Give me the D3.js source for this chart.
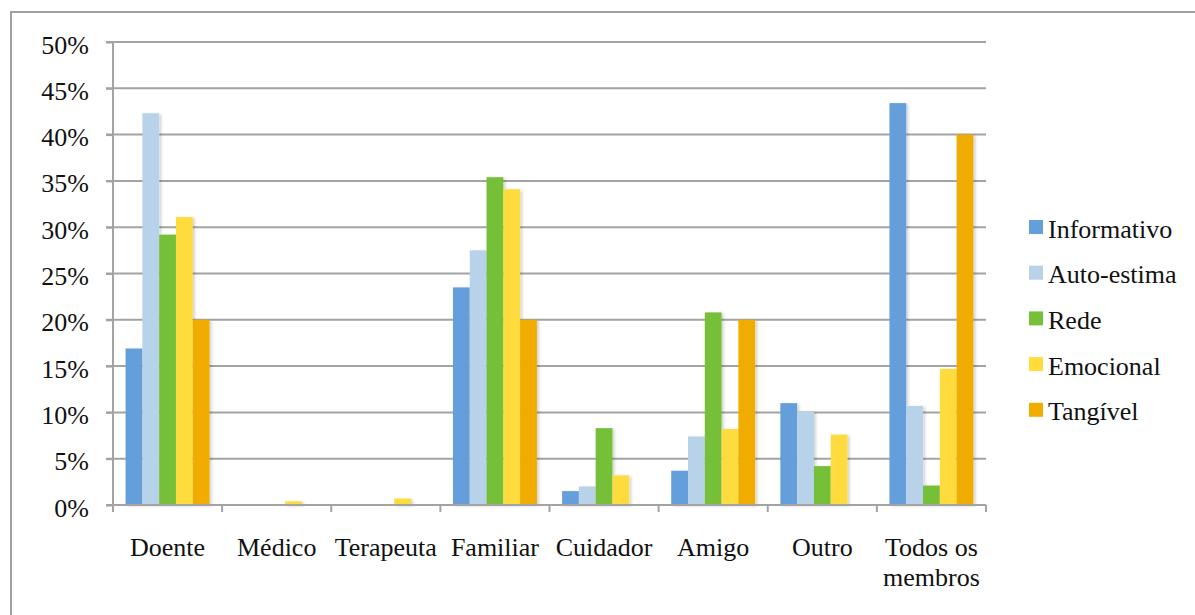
<!DOCTYPE html>
<html>
<head>
<meta charset="utf-8">
<script src="https://cdn.jsdelivr.net/npm/d3@7"></script>
</head>
<body style="margin:0">
<svg id="chart" width="1195" height="615" style="display:block"></svg>
<script>
// Support type shares per member group
const categories = ["Doente", "Médico", "Terapeuta", "Familiar", "Cuidador", "Amigo", "Outro", "Todos os\nmembros"];
const seriesNames = ["Informativo", "Auto-estima", "Rede", "Emocional", "Tangível"];
const seriesColors = ["#659fdb", "#b8d2e9", "#76bf39", "#fedc3c", "#f1ac00"];
const informativo = [16.9, 0, 0, 23.5, 1.5, 3.7, 11.0, 43.4];
const autoEstima  = [42.3, 0, 0, 27.5, 2.0, 7.4, 10.1, 10.7];
const rede        = [29.2, 0, 0, 35.4, 8.3, 20.8, 4.2, 2.1];
const emocional   = [31.1, 0.4, 0.7, 34.1, 3.2, 8.2, 7.6, 14.7];
const tangivel    = [20.0, 0, 0, 20.0, 0, 20.0, 0, 40.0];
const yTicks = [0, 5, 10, 15, 20, 25, 30, 35, 40, 45, 50];

const seriesValues = [informativo, autoEstima, rede, emocional, tangivel];
const FONT = '"Liberation Serif"';

const svg = d3.select("#chart");
const plotLeft = 113, plotRight = 986, plotTop = 42, plotBottom = 505;

// outer frame
svg.append("rect")
  .attr("x", 11).attr("y", 12).attr("width", 1200).attr("height", 620)
  .attr("fill", "none").attr("stroke", "#a0a0a0").attr("stroke-width", 2);

const x = d3.scaleBand().domain(categories).range([plotLeft, plotRight]).paddingInner(0).paddingOuter(0);
const y = d3.scaleLinear().domain([0, 50]).range([plotBottom, plotTop]);
// 150% gap between clusters: each bar takes band / 6.5
const barW = x.bandwidth() / 6.5;
const offset0 = (x.bandwidth() - 5 * barW) / 2;

// gridlines
svg.append("g").selectAll("line").data(yTicks.filter(d => d > 0)).join("line")
  .attr("x1", plotLeft - 7).attr("x2", plotRight)
  .attr("y1", d => y(d)).attr("y2", d => y(d))
  .attr("stroke", "#a3a3a3").attr("stroke-width", 2);

// soft shadow behind bars
const defs = svg.append("defs");
const f = defs.append("filter").attr("id", "shadow").attr("x", "-30%").attr("y", "-5%").attr("width", "160%").attr("height", "110%");
f.append("feDropShadow").attr("dx", 2).attr("dy", 1).attr("stdDeviation", 1.5)
  .attr("flood-color", "#000").attr("flood-opacity", 0.18);

// bars
const barData = [];
categories.forEach((c, ci) => {
  seriesNames.forEach((s, si) => {
    barData.push({ c, s, si, v: seriesValues[si][ci] });
  });
});
svg.append("g").attr("filter", "url(#shadow)").selectAll("rect").data(barData.filter(d => d.v > 0)).join("rect")
  .attr("x", d => x(d.c) + offset0 + d.si * barW)
  .attr("width", barW)
  .attr("y", d => y(d.v))
  .attr("height", d => y(0) - y(d.v))
  .attr("fill", d => seriesColors[d.si]);

// y axis
const yAxis = d3.axisLeft(y).tickValues(yTicks).tickSize(7).tickFormat(d => d + "%");
const gy = svg.append("g").attr("transform", `translate(${plotLeft},0)`).call(yAxis);
gy.attr("font-family", "Liberation Serif").attr("font-size", 26);
gy.select(".domain").attr("stroke", "#a3a3a3").attr("stroke-width", 2).attr("d", `M-7,${plotBottom}H0V${plotTop}H-7`);
gy.selectAll(".tick line").attr("stroke", "#a3a3a3").attr("stroke-width", 2);
gy.selectAll(".tick text")
  .attr("x", -24).attr("dy", null).attr("y", 11)
  .attr("fill", "#111")
  .style("font-family", FONT).attr("font-size", 26);

// x axis
const xAxis = d3.axisBottom(x).tickSize(0).tickFormat("");
const gx = svg.append("g").attr("transform", `translate(0,${plotBottom})`).call(xAxis);
gx.select(".domain").attr("stroke", "#a3a3a3").attr("stroke-width", 2).attr("d", `M${plotLeft},0H${plotRight}`);
gx.selectAll(".tick").remove();
const boundaries = categories.map(c => x(c)).concat([x(categories[categories.length - 1]) + x.bandwidth()]);
gx.selectAll("line.sep").data(boundaries).join("line").attr("class", "sep")
  .attr("x1", d => d).attr("x2", d => d).attr("y1", 0).attr("y2", 7)
  .attr("stroke", "#a3a3a3").attr("stroke-width", 2);

const labels = svg.append("g").selectAll("text").data(categories).join("text")
  .attr("x", d => x(d) + x.bandwidth() / 2)
  .attr("y", 556)
  .attr("text-anchor", "middle")
  .attr("fill", "#111")
  .style("font-family", FONT).attr("font-size", 26);
labels.each(function(d) {
  const lines = d.split("\n");
  d3.select(this).selectAll("tspan").data(lines).join("tspan")
    .attr("x", x(d) + x.bandwidth() / 2)
    .attr("dy", (l, i) => i === 0 ? 0 : 30)
    .text(l => l);
});

// legend
const lg = svg.append("g").selectAll("g").data(seriesNames).join("g")
  .attr("transform", (d, i) => `translate(1029,${220 + i * 45.7})`);
lg.append("rect").attr("width", 14).attr("height", 14).attr("fill", (d, i) => seriesColors[i]);
lg.append("text").attr("x", 19).attr("y", 17.5).attr("fill", "#111")
  .style("font-family", FONT).attr("font-size", 26).text(d => d);
</script>
</body>
</html>
